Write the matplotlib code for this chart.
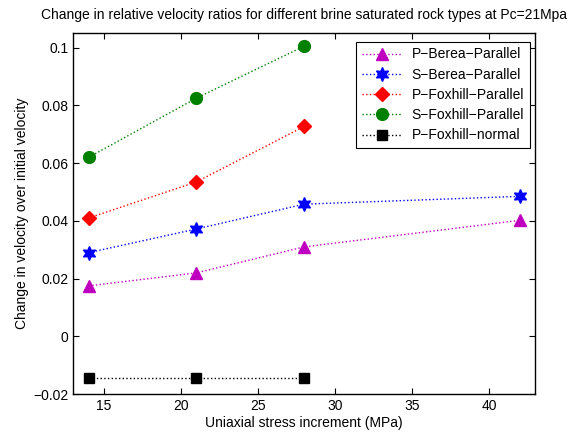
import matplotlib
matplotlib.use("Agg")
import matplotlib.pyplot as plt

plt.rcParams['font.family'] = ['Liberation Sans', 'DejaVu Sans']

x_berea = [14, 21, 28, 42]
x_fox = [14, 21, 28]
p_berea_par = [0.0175, 0.022, 0.031, 0.0402]
s_berea_par = [0.029, 0.0372, 0.0458, 0.0485]
p_fox_par = [0.041, 0.0535, 0.0727]
s_fox_par = [0.062, 0.0825, 0.1005]
p_fox_norm = [-0.0145, -0.0145, -0.0145]

labels = ['P\u2212Berea\u2212Parallel', 'S\u2212Berea\u2212Parallel',
          'P\u2212Foxhill\u2212Parallel', 'S\u2212Foxhill\u2212Parallel',
          'P\u2212Foxhill\u2212normal']
xticks = [15, 20, 25, 30, 35, 40]
yticks = [-0.02, 0, 0.02, 0.04, 0.06, 0.08, 0.1]
ytick_labels = ['\u22120.02', '0', '0.02', '0.04', '0.06', '0.08', '0.1']

fig = plt.figure(figsize=(5.76, 4.37), dpi=100)
ax = fig.add_axes([0.127, 0.098, 0.802, 0.826])

series = [
    (x_berea, p_berea_par, 'm', '^', 9),
    (x_berea, s_berea_par, 'b', (6, 1, 0), 10),
    (x_fox, p_fox_par, 'r', 'D', 7.5),
    (x_fox, s_fox_par, 'g', 'o', 8.5),
    (x_fox, p_fox_norm, 'k', 's', 7),
]
for (xs, ys, c, m, ms), lab in zip(series, labels):
    ax.plot(xs, ys, linestyle=':', color=c, marker=m, markersize=ms,
            markerfacecolor=c, markeredgecolor=c, linewidth=1.0, label=lab)

ax.set_xlim(13, 43)
ax.set_ylim(-0.02, 0.105)
ax.set_xticks(xticks)
ax.set_yticks(yticks)
ax.set_yticklabels(ytick_labels)
ax.tick_params(direction='in', top=True, right=True, labelsize=10, length=4)
for sp in ax.spines.values():
    sp.set_linewidth(1.0)

ax.set_xlabel('Uniaxial stress increment (MPa)', fontsize=10, labelpad=2)
ax.set_ylabel('Change in velocity over initial velocity', fontsize=10, labelpad=3)
ax.set_title('Change in relative velocity ratios for different brine saturated rock types at Pc=21Mpa',
             fontsize=10, pad=10)

leg = ax.legend(loc='upper right', bbox_to_anchor=(0.9885, 0.976),
                fontsize=10, fancybox=False, framealpha=1,
                edgecolor='k', borderaxespad=0.0, handlelength=2.9,
                labelspacing=0.45, borderpad=0.4, handletextpad=0.7)
leg.get_frame().set_linewidth(0.8)

fig.savefig('out.png', dpi=100)
